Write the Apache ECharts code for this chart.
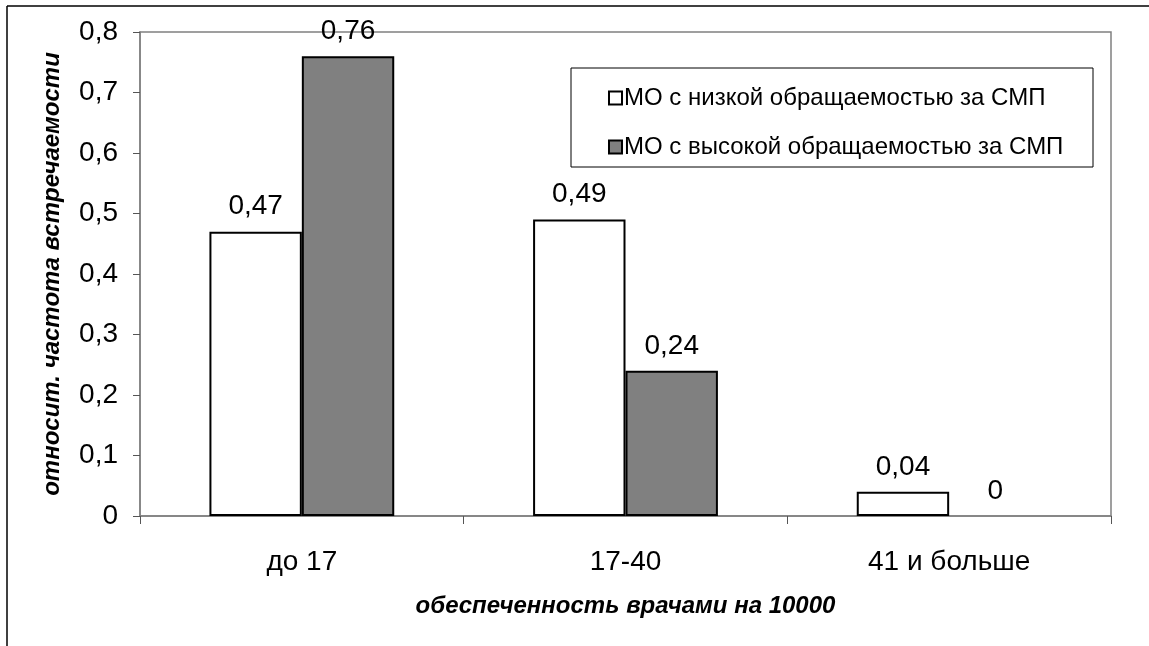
<!DOCTYPE html>
<html><head><meta charset="utf-8">
<script src="https://cdn.jsdelivr.net/npm/echarts@6/dist/echarts.min.js"></script>
<style>html,body{margin:0;padding:0;background:#fff}#c{width:1149px;height:646px}</style>
</head><body><div id="c"></div>
<script>
const categories = ['до 17', '17-40', '41 и больше'];
const seriesNames = ['МО с низкой обращаемостью за СМП', 'МО с высокой обращаемостью за СМП'];
const lowValues = [0.47, 0.49, 0.04];
const highValues = [0.76, 0.24, 0];
const yTitle = 'относит. частота встречаемости';
const xTitle = 'обеспеченность врачами на 10000';

const font = 'Liberation Sans, Arial, sans-serif';
const chart = echarts.init(document.getElementById('c'), null, {renderer: 'canvas'});
const fmt = v => String(v).replace('.', ',');
const labelCfg = {show: true, position: 'top', distance: 11, color: '#000', fontSize: 28, fontFamily: font, formatter: p => fmt(p.value)};
const toItems = arr => arr.map(v => v === 0 ? {value: v, itemStyle: {borderWidth: 0}} : v);
chart.setOption({
  animation: false,
  backgroundColor: '#fff',
  textStyle: {fontFamily: font},
  grid: {left: 140, top: 32, right: 38, bottom: 130, show: true, borderColor: '#808080', borderWidth: 1.5, containLabel: false},
  graphic: [
    {type: 'line', shape: {x1: 7, y1: 6, x2: 1149, y2: 6}, style: {stroke: '#000', lineWidth: 1.5}},
    {type: 'line', shape: {x1: 7, y1: 6, x2: 7, y2: 646}, style: {stroke: '#000', lineWidth: 1.5}},
    {type: 'rect', shape: {x: 571, y: 68, width: 522, height: 99}, style: {fill: '#fff', stroke: '#000', lineWidth: 1}, z: 10}
  ],
  legend: {
    orient: 'vertical', left: 603, top: 81, itemGap: 25, itemWidth: 13, itemHeight: 13, icon: 'rect', z: 20,
    textStyle: {fontSize: 24, fontFamily: font, color: '#000', padding: [0, 0, 0, -3]},
    data: seriesNames
  },
  xAxis: {
    type: 'category', data: categories,
    axisLine: {lineStyle: {color: '#808080', width: 1.5}},
    axisTick: {show: true, alignWithLabel: false, length: 8, lineStyle: {color: '#555'}},
    axisLabel: {color: '#000', fontSize: 28, margin: 32, fontFamily: font},
    name: xTitle, nameLocation: 'middle', nameGap: 78,
    nameTextStyle: {fontSize: 24, fontWeight: 'bold', fontStyle: 'italic', color: '#000', fontFamily: font},
    splitLine: {show: false}
  },
  yAxis: {
    type: 'value', min: 0, max: 0.8, interval: 0.1,
    axisLine: {show: true, lineStyle: {color: '#808080', width: 1.5}},
    axisTick: {show: true, length: 7, lineStyle: {color: '#555'}},
    axisLabel: {color: '#000', fontSize: 28, margin: 22, fontFamily: font, formatter: v => fmt(Math.round(v * 10) / 10)},
    splitLine: {show: false},
    name: yTitle, nameLocation: 'middle', nameGap: 76, nameRotate: 90,
    nameTextStyle: {fontSize: 24, fontWeight: 'bold', fontStyle: 'italic', color: '#000', fontFamily: font}
  },
  series: [
    {name: seriesNames[0], type: 'bar', data: toItems(lowValues), barGap: '0%', barCategoryGap: '42.9%',
     itemStyle: {color: '#fff', borderColor: '#000', borderWidth: 2}, label: labelCfg},
    {name: seriesNames[1], type: 'bar', data: toItems(highValues),
     itemStyle: {color: '#808080', borderColor: '#000', borderWidth: 2}, label: labelCfg}
  ]
});
</script></body></html>
